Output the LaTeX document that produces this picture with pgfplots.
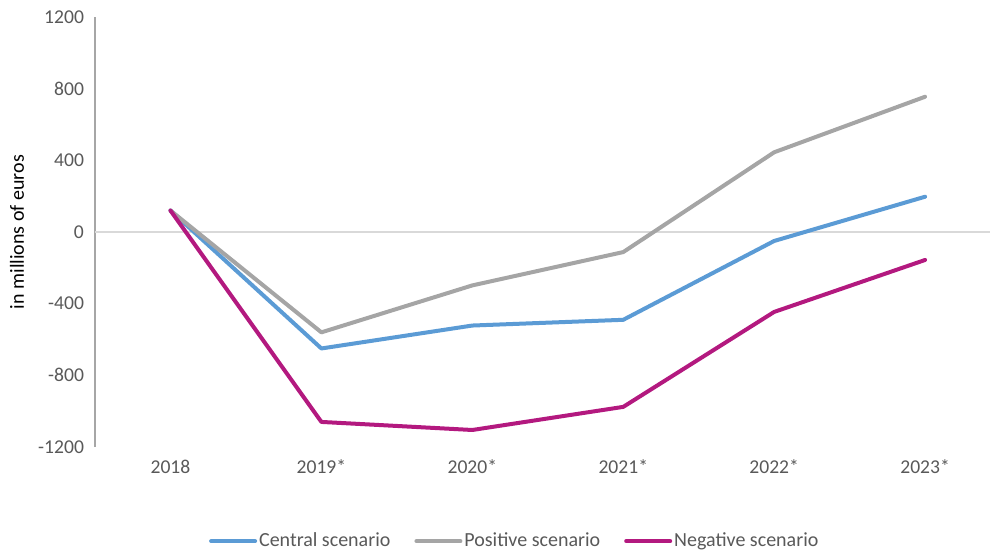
\documentclass[border=0pt]{standalone}
\usepackage{pgfplots}
\pgfplotsset{compat=1.18}
\usepackage{fontspec}
\setmainfont{Carlito}

\definecolor{central}{HTML}{5B9BD5}
\definecolor{positive}{HTML}{A5A5A5}
\definecolor{negative}{HTML}{B3197F}
\definecolor{txt}{HTML}{595959}
\definecolor{zeroline}{HTML}{D9D9D9}
\definecolor{axisgray}{HTML}{A6A6A6}

\begin{document}
\fontsize{10}{12}\selectfont
\begin{tikzpicture}
\useasboundingbox (-47.5pt,-53.5pt) rectangle (447.5pt,223.5pt);
\begin{axis}[
    scale only axis,
    width=447.5pt,
    height=215pt,
    xmin=-0.5, xmax=5.43,
    ymin=-1200, ymax=1200,
    xtick={0,1,2,3,4,5},
    xticklabels={2018,2019*,2020*,2021*,2022*,2023*},
    ytick={-1200,-800,-400,0,400,800,1200},
    major tick length=0pt,
    axis y line=left,
    axis x line=bottom,
    axis line style={-, draw=axisgray, line width=0.7pt},
    x axis line style={draw=none},
    extra y ticks={0},
    extra y tick labels={},
    extra y tick style={grid=major, major grid style={draw=zeroline, line width=0.8pt}},
    /pgf/number format/assume math mode=true,
    /pgf/number format/1000 sep={},
    tick label style={text=txt, font=\fontsize{9.8}{11.5}\selectfont},
    yticklabel style={xshift=-2pt},
    xticklabel style={yshift=-3pt},
    ylabel={in millions of euros},
    ylabel style={text=txt, font=\fontsize{12.2}{14}\selectfont},
    every axis y label/.style={at={(axis description cs:-0.087,0.5)}, rotate=90, anchor=center},
    legend columns=3,
    legend style={at={(axis description cs:0.469,-0.219)}, anchor=center, draw=none,
        font=\fontsize{10}{12}\selectfont, text=txt,
        nodes={inner xsep=1pt},
        /tikz/every even column/.append style={column sep=11pt}},
    legend image code/.code={\draw[#1, line width=2pt] (0pt,0pt) -- (22pt,0pt);},
    every axis plot/.append style={line width=2pt, line join=round, line cap=round},
    clip=false,
]
\addplot[central] coordinates {(0,120) (1,-650) (2,-522) (3,-490) (4,-50) (5,197)};
\addlegendentry{Central scenario}
\addplot[positive] coordinates {(0,120) (1,-560) (2,-298) (3,-112) (4,445) (5,755)};
\addlegendentry{Positive scenario}
\addplot[negative] coordinates {(0,120) (1,-1060) (2,-1105) (3,-976) (4,-446) (5,-156)};
\addlegendentry{Negative scenario}
\end{axis}
\end{tikzpicture}
\end{document}
